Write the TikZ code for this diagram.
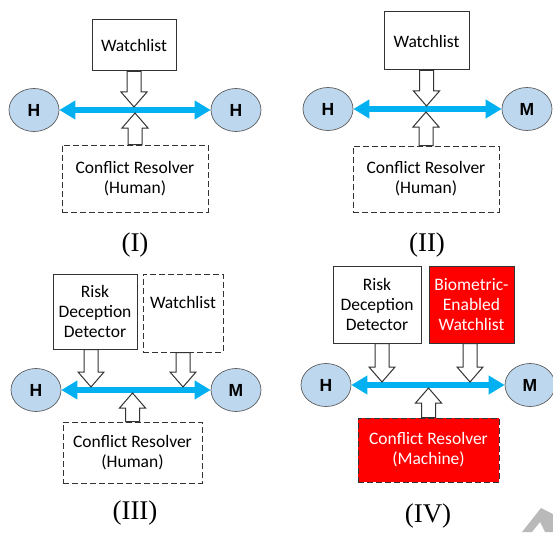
\documentclass[tikz,border=0pt]{standalone}
\usepackage{fontspec}
\setmainfont{Carlito}
\newfontfamily\arialfont{Liberation Sans}
\newfontfamily\timesfont{Liberation Serif}
\usetikzlibrary{shapes.geometric,arrows.meta,calc}
\definecolor{linkblue}{HTML}{00B0F0}
\definecolor{agentfill}{HTML}{BDD7EE}
\definecolor{edgegray}{HTML}{333333}
\definecolor{alertred}{HTML}{FF0000}
\tikzset{
  boxtext/.style={font=\fontsize{17.5}{20}\selectfont},
  box/.style={boxtext, draw=edgegray, line width=1pt, fill=white, inner sep=0pt, align=center},
  dashbox/.style={box, dash pattern=on 6pt off 3pt},
  redbox/.style={box, fill=alertred, text=white},
  agent/.style={ellipse, draw=edgegray!80, line width=0.7pt, fill=agentfill,
    minimum width=50pt, minimum height=43pt, inner sep=0pt,
    font=\arialfont\bfseries\fontsize{17.5}{17.5}\selectfont},
  link/.style={linkblue, line width=6pt,
    {Triangle[length=16pt,width=18pt]}-{Triangle[length=16pt,width=18pt]}},
  hollow/.style={draw=edgegray, line width=1pt, fill=white},
  caption/.style={font=\timesfont\fontsize{27}{27}\selectfont}
}
% hollow block arrow from a box edge to the blue link
\newcommand{\blockarrow}[2]{%
  \draw[hollow] let \p1=(#1), \p2=(#2), \n1={(\y2>\y1)*2-1} in
    (\x1-7pt,\y1) -- (\x1-7pt,\y2-\n1*18pt) -- (\x1-13pt,\y2-\n1*18pt)
    -- (\x1,\y2-\n1*3pt) -- (\x1+13pt,\y2-\n1*18pt) -- (\x1+7pt,\y2-\n1*18pt)
    -- (\x1+7pt,\y1) -- cycle;}
\begin{document}
\begin{tikzpicture}[x=1pt,y=-1pt]
    \useasboundingbox (0,0) rectangle (553,532);
    % Panel I
    \node[box, minimum width=84pt, minimum height=51pt] (wl1) at (134,45.5) {Watchlist};
    \node[dashbox, minimum width=146pt, minimum height=67pt] (cr1) at (135,178.5) {Conflict Resolver\\(Human)};
    \node[agent] (h1a) at (34,110) {H};
    \node[agent] (h1b) at (236,110) {H};
    \draw[link] (h1a) -- (h1b);
    \blockarrow{wl1.south}{h1a}
    \blockarrow{cr1.north}{h1a}
    \node[caption] (lbl1) at (135,245) {(I)};
    % Panel II
    \node[box, minimum width=85pt, minimum height=58pt] (wl2) at (426.5,41) {Watchlist};
    \node[dashbox, minimum width=146pt, minimum height=66pt] (cr2) at (426,179) {Conflict Resolver\\(Human)};
    \node[agent] (h2) at (328,109) {H};
    \node[agent] (m2) at (527,109) {M};
    \draw[link] (h2) -- (m2);
    \blockarrow{wl2.south}{h2}
    \blockarrow{cr2.north}{h2}
    \node[caption] (lbl2) at (427,245) {(II)};
    % Panel III
    \node[box, minimum width=84pt, minimum height=75pt] (rdd3) at (95,311.5) {Risk\\Deception\\Detector};
    \node[dashbox, minimum width=80pt, minimum height=78pt] (wl3) at (183,313) {};
    \node[boxtext] (wl3txt) at (183,302) {Watchlist};
    \node[dashbox, minimum width=139pt, minimum height=61pt] (cr3) at (132.5,452.5) {Conflict Resolver\\(Human)};
    \node[agent] (h3) at (36,390) {H};
    \node[agent] (m3) at (236,390) {M};
    \draw[link] (h3) -- (m3);
    \blockarrow{[xshift=-4pt]rdd3.south}{h3}
    \blockarrow{wl3.south}{h3}
    \blockarrow{cr3.north}{h3}
    \node[caption] (lbl3) at (135,513) {(III)};
    % Panel IV
    \node[box, minimum width=88pt, minimum height=77pt] (rdd4) at (377,304.5) {Risk\\Deception\\Detector};
    \node[redbox, minimum width=85pt, minimum height=77pt] (bew4) at (471.5,304.5) {Biometric-\\Enabled\\Watchlist};
    \node[redbox, dash pattern=on 6pt off 3pt, minimum width=141pt, minimum height=64pt] (cr4) at (428.5,450) {Conflict Resolver\\(Machine)};
    \node[agent] (h4) at (326,385) {H};
    \node[agent] (m4) at (530,385) {M};
    \draw[link] (h4) -- (m4);
    \blockarrow{[xshift=5pt]rdd4.south}{h4}
    \blockarrow{[xshift=-1.5pt]bew4.south}{h4}
    \blockarrow{cr4.north}{h4}
    \node[caption] (lbl4) at (428,516) {(IV)};
    % watermark corner
    \fill[gray!55] (522,532) -- (541,508) -- (553,514) -- (553,532) -- (545,532) -- (540,522) -- (532,532) -- cycle;
\end{tikzpicture}
\end{document}
